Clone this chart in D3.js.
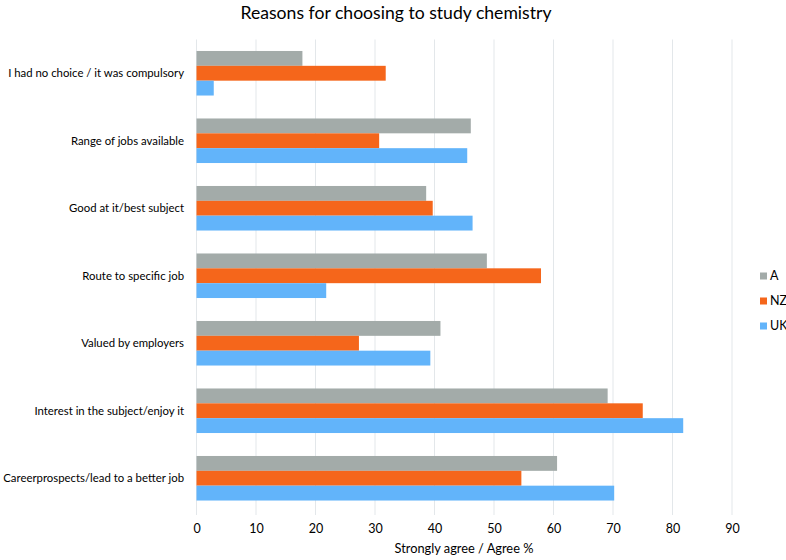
<!DOCTYPE html>
<html><head><meta charset="utf-8">
<script src="https://cdn.jsdelivr.net/npm/d3@7"></script>
<style>body{margin:0;background:#fff}svg{display:block}text{font-family:Lato,"Open Sans",sans-serif;fill:#000}</style>
</head><body><svg id="c" width="786" height="560"></svg>
<script>
const categories = ["I had no choice / it was compulsory","Range of jobs available","Good at it/best subject","Route to specific job","Valued by employers","Interest in the subject/enjoy it","Careerprospects/lead to a better job"];
const seriesNames = ["A","NZ","UK"];
const valuesA  = [17.8, 46.1, 38.6, 48.8, 41.0, 69.1, 60.6];
const valuesNZ = [31.8, 30.7, 39.7, 57.9, 27.3, 75.0, 54.6];
const valuesUK = [2.9, 45.5, 46.4, 21.8, 39.3, 81.8, 70.2];
const xTicks = [0,10,20,30,40,50,60,70,80,90];
const colors = ["#A3ABA9","#F5661B","#62B4FA"];

const svg = d3.select("#c");
const pLeft = 196.5, pRight = 732, pTop = 39.5, pBottom = 512;
const x = d3.scaleLinear().domain([0,90]).range([pLeft,pRight]);
const y = d3.scaleBand().domain(categories).range([pTop,pBottom]).paddingInner(0.34).paddingOuter(0.17);
const ys = d3.scaleBand().domain(seriesNames).range([0,y.bandwidth()]);
const series = [valuesA, valuesNZ, valuesUK];

svg.append("g").selectAll("line").data(xTicks).join("line")
  .attr("x1",d=>x(d)).attr("x2",d=>x(d)).attr("y1",pTop).attr("y2",pBottom+3)
  .attr("stroke","#E3E7EA").attr("stroke-width",1);

series.forEach((vals,si)=>{
  svg.append("g").selectAll("rect").data(vals).join("rect")
    .attr("x",x(0)).attr("y",(d,i)=>y(categories[i])+ys(seriesNames[si]))
    .attr("width",d=>x(d)-x(0)).attr("height",ys.bandwidth())
    .attr("fill",colors[si]);
});

const xa = svg.append("g").attr("transform",`translate(0,${pBottom})`)
  .call(d3.axisBottom(x).tickValues(xTicks).tickSize(0).tickPadding(12));
xa.select(".domain").remove();
xa.selectAll("text").attr("font-size",12.5).attr("font-family","Lato,sans-serif").attr("fill","#000");

const cl = svg.append("g").selectAll("text").data(categories).join("text")
  .attr("x",184).attr("y",d=>y(d)+y.bandwidth()/2).attr("dy","0.35em")
  .attr("text-anchor","end").attr("font-size",12).text(d=>d);
let maxW = 0;
cl.each(function(){ maxW = Math.max(maxW, this.getComputedTextLength()); });
const fs = Math.min(12.5, 12 * 181 / maxW);
cl.attr("font-size", fs);

svg.append("text").attr("x",396).attr("y",19).attr("text-anchor","middle").attr("font-size",17.6).text("Reasons for choosing to study chemistry");
svg.append("text").attr("x",464).attr("y",553).attr("text-anchor","middle").attr("font-size",12.8).text("Strongly agree / Agree %");

const lg = svg.append("g").selectAll("g").data(seriesNames).join("g")
  .attr("transform",(d,i)=>`translate(760,${276+i*25})`);
lg.append("rect").attr("x",0).attr("y",-3.5).attr("width",7).attr("height",7).attr("fill",(d,i)=>colors[i]);
lg.append("text").attr("x",10).attr("dy","0.35em").attr("font-size",12.5).text(d=>d);
</script></body></html>
